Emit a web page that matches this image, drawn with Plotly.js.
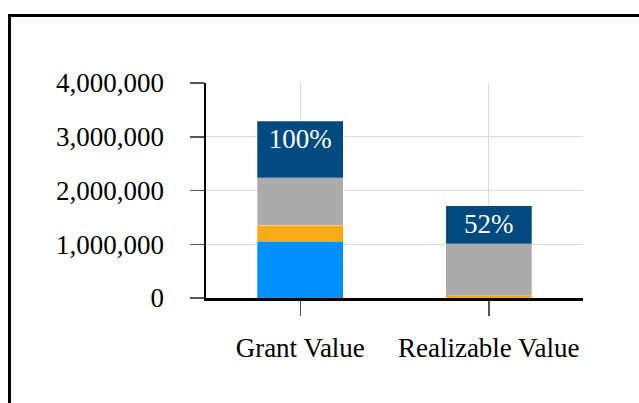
<!DOCTYPE html>
<html>
<head>
<meta charset="utf-8">
<script src="https://cdn.plot.ly/plotly-3.0.1.min.js"></script>
<style>
html,body{margin:0;padding:0;background:#fff;}
#chart{width:639px;height:403px;}
</style>
</head>
<body>
<div id="chart"></div>
<script>
// Data
var categories = ["Grant Value", "Realizable Value"];
var blueValues   = [1060000, 0];
var orangeValues = [291000, 45000];
var grayValues   = [882000, 960000];
var navyValues   = [1052000, 712000];
var yTickValues  = [0, 1000000, 2000000, 3000000, 4000000];

var totals = categories.map(function(_, i){
  return blueValues[i] + orangeValues[i] + grayValues[i] + navyValues[i];
});
var pctLabels = totals.map(function(t){ return Math.round(t / totals[0] * 100) + "%"; });

var W = 639, H = 403;
var M = {l: 206, r: 56, t: 83, b: 105};
var pw = W - M.l - M.r, ph = H - M.t - M.b;
function px2x(p){ return (p - M.l) / pw; }
function py2y(p){ return (H - M.b - p) / ph; }

var font = "Liberation Serif";
var edge = {color: 'rgba(255,255,255,0.5)', width: 0.5};

function seg(vals, color, text){
  var t = {
    type: 'bar', x: categories, y: vals,
    marker: {color: color, line: edge},
    hoverinfo: 'skip', showlegend: false
  };
  if (text) {
    t.text = text;
    t.textposition = 'inside';
    t.insidetextanchor = 'end';
    t.textfont = {family: font, size: 27, color: '#ffffff'};
    t.constraintext = 'none';
  } else {
    t.textposition = 'none';
  }
  return t;
}

var data = [
  seg(blueValues, '#0091FF'),
  seg(orangeValues, '#F9AB17'),
  seg(grayValues, '#ABABAB'),
  seg(navyValues, '#004A7F', pctLabels)
];

var layout = {
  width: W, height: H,
  margin: M,
  barmode: 'stack',
  bargap: 0.543,
  paper_bgcolor: '#ffffff',
  plot_bgcolor: '#ffffff',
  font: {family: font, size: 27, color: '#000000'},
  showlegend: false,
  xaxis: {
    type: 'category',
    range: [-0.5, 1.5],
    showgrid: true, gridcolor: '#D9D9D9', gridwidth: 1,
    showline: true, linecolor: '#000000', linewidth: 2.5,
    ticks: 'outside', ticklen: 15, tickcolor: '#555555', tickwidth: 1.5,
    ticklabelstandoff: 9,
    tickfont: {family: font, size: 27, color: '#000000'},
    zeroline: false, fixedrange: true
  },
  yaxis: {
    range: [0, 4000000],
    tickvals: yTickValues,
    tickformat: ',d',
    showgrid: true, gridcolor: '#D9D9D9', gridwidth: 1,
    showline: true, linecolor: '#000000', linewidth: 2.5,
    ticks: 'outside', ticklen: 14, tickcolor: '#555555', tickwidth: 1.5,
    ticklabelstandoff: 20,
    tickfont: {family: font, size: 27, color: '#000000'},
    zeroline: false, fixedrange: true
  },
  shapes: [
    {type: 'line', xref: 'paper', yref: 'paper',
     x0: px2x(9.5), x1: px2x(9.5), y0: py2y(14.5), y1: py2y(410),
     line: {color: '#000000', width: 3}},
    {type: 'line', xref: 'paper', yref: 'paper',
     x0: px2x(8), x1: px2x(650), y0: py2y(15.5), y1: py2y(15.5),
     line: {color: '#000000', width: 3}}
  ]
};

Plotly.newPlot('chart', data, layout, {displayModeBar: false, staticPlot: true});
</script>
</body>
</html>
